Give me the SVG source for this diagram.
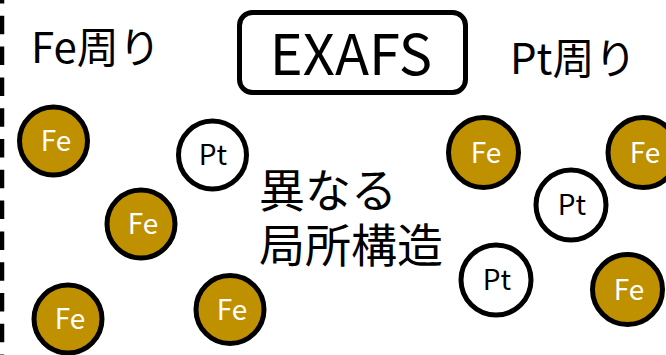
<svg xmlns="http://www.w3.org/2000/svg" width="666" height="355" viewBox="0 0 666 355">
  <style>
    .t { font-family: "Noto Sans CJK JP", "Noto Sans", sans-serif; fill: #000; }
    .fe circle { fill: #BF9000; stroke: #000; stroke-width: 5; }
    .pt circle { fill: #fff; stroke: #000; stroke-width: 5; }
    .fe text { font-family: "Noto Sans CJK JP", "Noto Sans", sans-serif; font-size: 28px; fill: #fff; text-anchor: middle; }
    .pt text { font-family: "Noto Sans CJK JP", "Noto Sans", sans-serif; font-size: 28px; fill: #000; text-anchor: middle; }
  </style>
  <rect width="666" height="355" fill="#fff"/>
  <g id="divider">
    <line x1="2" y1="-15" x2="2" y2="355" stroke="#000" stroke-width="4.5" stroke-dasharray="18.5 12.3"/>
  </g>
  <g id="title">
    <rect x="239.5" y="12.5" width="226" height="80" rx="13" fill="#fff" stroke="#000" stroke-width="5"/>
    <text class="t" x="351" y="75" font-size="56" text-anchor="middle">EXAFS</text>
  </g>
  <g id="label-fe">
    <text class="t" x="31" y="63" font-size="42">Fe周り</text>
  </g>
  <g id="label-pt">
    <text class="t" x="510" y="74" font-size="42">Pt周り</text>
  </g>
  <g id="label-center">
    <text class="t" font-size="46"><tspan x="259" y="207">異なる</tspan><tspan x="259" y="262">局所構造</tspan></text>
  </g>
  <g id="connectors"></g>
  <g id="fe1" class="fe"><circle cx="53.5" cy="141" r="34"/><text x="56" y="151">Fe</text></g>
  <g id="pt1" class="pt"><circle cx="212.5" cy="155" r="34"/><text x="213" y="165">Pt</text></g>
  <g id="fe2" class="fe"><circle cx="141" cy="224" r="34"/><text x="143" y="234">Fe</text></g>
  <g id="fe3" class="fe"><circle cx="68" cy="319" r="34"/><text x="70" y="329">Fe</text></g>
  <g id="fe4" class="fe"><circle cx="230" cy="309.5" r="34"/><text x="232" y="319.5">Fe</text></g>
  <g id="fe5" class="fe"><circle cx="483.5" cy="152.5" r="35"/><text x="486" y="162.5">Fe</text></g>
  <g id="fe6" class="fe"><circle cx="643" cy="152.5" r="35"/><text x="645" y="162.5">Fe</text></g>
  <g id="pt2" class="pt"><circle cx="571" cy="205" r="35"/><text x="572" y="215">Pt</text></g>
  <g id="pt3" class="pt"><circle cx="496" cy="280" r="35"/><text x="497" y="290">Pt</text></g>
  <g id="fe7" class="fe"><circle cx="627.5" cy="289.5" r="35"/><text x="629" y="299.5">Fe</text></g>
</svg>
